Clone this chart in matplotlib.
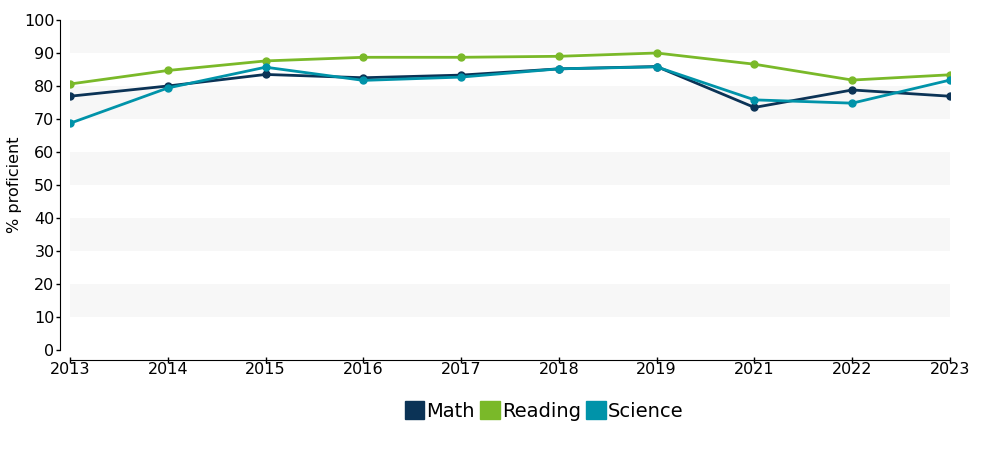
import matplotlib.pyplot as plt
from matplotlib.patches import Patch

years = ["2013", "2014", "2015", "2016", "2017", "2018", "2019", "2021", "2022", "2023"]
math_vals = [76.9, 80.0, 83.5, 82.5, 83.3, 85.2, 85.9, 73.5, 78.8, 76.9]
reading_vals = [80.6, 84.7, 87.6, 88.7, 88.7, 89.0, 90.0, 86.6, 81.8, 83.4]
science_vals = [68.7, 79.4, 85.7, 81.7, 82.7, 85.2, 85.8, 75.8, 74.8, 81.8]

series = [
    ("Math", math_vals, "#0b3356"),
    ("Reading", reading_vals, "#7ab929"),
    ("Science", science_vals, "#0093a9"),
]

fig = plt.figure(figsize=(10, 4.5), dpi=100)
ax = fig.add_axes([0.070, 1 - 350 / 450, 0.880, 330 / 450])

x = list(range(len(years)))
for lo in range(10, 100, 20):
    ax.axhspan(lo, lo + 10, color="#f7f7f7", lw=0, zorder=0)

for name, vals, col in series:
    ax.plot(x, vals, color=col, lw=2, marker="o", ms=5, zorder=3)

ax.set_xlim(0, len(years) - 1)
ax.set_ylim(0, 100)
ax.set_xticks(x)
ax.set_xticklabels(years)
ax.set_yticks(range(0, 101, 10))
ax.tick_params(axis="y", labelsize=11.5, length=3, width=1, pad=1)
ax.tick_params(axis="x", labelsize=11.5, length=5, width=1, pad=-1, direction="inout")
ax.spines["top"].set_visible(False)
ax.spines["right"].set_visible(False)
# offsets are in points: 7.2pt ~ 10px
ax.spines["left"].set_position(("outward", 7.2))
ax.spines["bottom"].set_position(("outward", 7.2))
ax.set_ylabel("% proficient", fontsize=11.5)
ax.yaxis.set_label_coords(-0.054, 0.5)

handles = [Patch(facecolor=c, edgecolor=c, label=n) for n, v, c in series]
fig.legend(handles=handles, loc="center", bbox_to_anchor=(0.544, 1 - 411 / 450),
           ncol=3, frameon=False, fontsize=14, handlelength=1.0, handleheight=1.0,
           handletextpad=0.1, columnspacing=0.3)

fig.savefig("out.png", dpi=100)
